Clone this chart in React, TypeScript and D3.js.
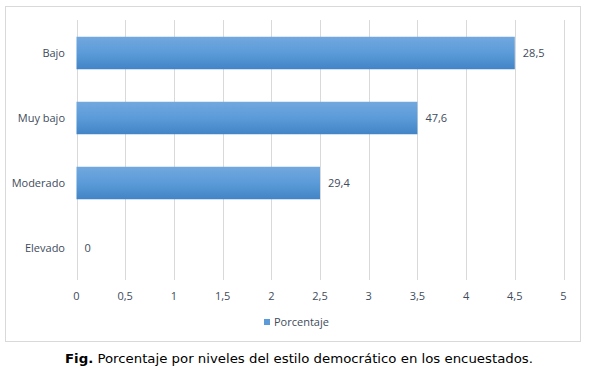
import React from "react";
import * as d3 from "d3";

const categories = ["Bajo", "Muy bajo", "Moderado", "Elevado"];
const barValues = [4.5, 3.5, 2.5, 0];
const valueLabels = ["28,5", "47,6", "29,4", "0"];
const xTicks = [0, 0.5, 1, 1.5, 2, 2.5, 3, 3.5, 4, 4.5, 5];
const seriesName = "Porcentaje";
const caption = "Porcentaje por niveles del estilo democrático en los encuestados.";

export default function App() {
  const W = 592, H = 372;
  const x = d3.scaleLinear().domain([0, 5]).range([76.5, 563.5]);
  const y = d3.scaleBand<string>().domain(categories).range([20.5, 280.5]).paddingInner(0.5).paddingOuter(0.25);
  const fmt = (v: number) => String(v).replace(".", ",");
  const textColor = "#404b5c";
  const font = "'Open Sans', 'Liberation Sans', sans-serif";
  return (
    <svg width={W} height={H} style={{ position: "absolute", left: 0, top: 0, background: "#fff" }}>
      <defs>
        <linearGradient id="barGrad" x1="0" y1="0" x2="0" y2="1">
          <stop offset="0" stopColor="#72a8de" />
          <stop offset="0.5" stopColor="#5b9bd9" />
          <stop offset="1" stopColor="#4284c6" />
        </linearGradient>
      </defs>
      <rect x={5.5} y={6.5} width={575} height={335} fill="#fff" stroke="#d9d9d9" />
      {xTicks.map((t) => (
        <line key={t} x1={Math.round(x(t)) + 0.5} x2={Math.round(x(t)) + 0.5} y1={20} y2={280} stroke="#d9d9d9" />
      ))}
      {categories.map((c, i) => {
        const by = y(c)!;
        const bw = x(barValues[i]) - x(0);
        return (
          <g key={c}>
            {bw > 0 && <rect x={x(0)} y={by} width={bw} height={y.bandwidth()} fill="url(#barGrad)" />}
            <text x={x(barValues[i]) + 8} y={by + y.bandwidth() / 2} dy="0.35em" fontSize={11} fill={textColor} fontFamily={font}>
              {valueLabels[i]}
            </text>
            <text x={65} y={by + y.bandwidth() / 2} dy="0.35em" fontSize={11} fill={textColor} fontFamily={font} textAnchor="end">
              {c}
            </text>
          </g>
        );
      })}
      {xTicks.map((t) => (
        <text key={"l" + t} x={x(t)} y={296} dy="0.35em" fontSize={11} fill={textColor} fontFamily={font} textAnchor="middle">
          {fmt(t)}
        </text>
      ))}
      <rect x={264} y={319} width={6} height={6} fill="#5b9bd9" />
      <text x={274} y={322} dy="0.35em" fontSize={11} fill={textColor} fontFamily={font}>
        {seriesName}
      </text>
      <text x={65} y={358} dy="0.35em" fontSize={13} fill="#000" fontFamily="'DejaVu Sans', Verdana, sans-serif" textLength={468} lengthAdjust="spacingAndGlyphs">
        <tspan fontWeight="bold">Fig.</tspan> {caption}
      </text>
    </svg>
  );
}
